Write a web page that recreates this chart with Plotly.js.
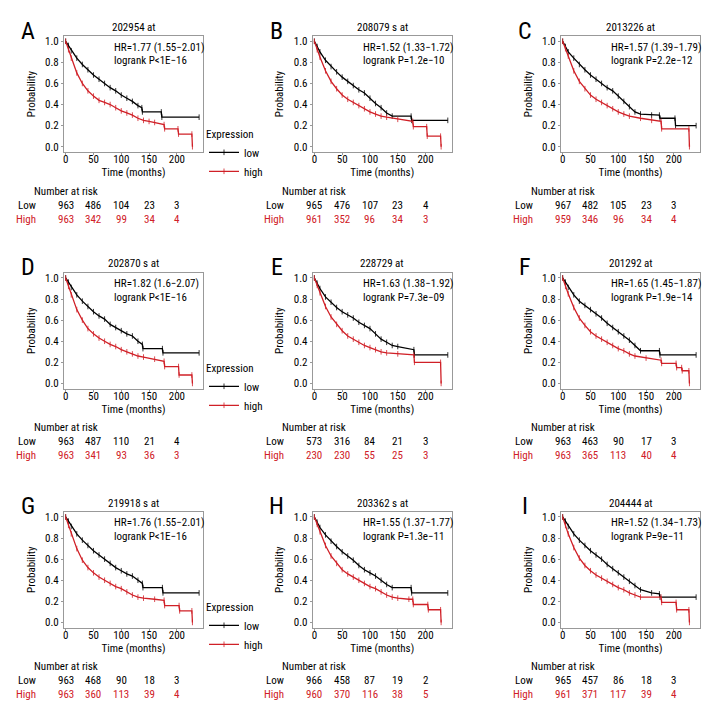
<!DOCTYPE html>
<html><head><meta charset="utf-8">
<script src="https://cdn.plot.ly/plotly-3.0.1.min.js"></script>
<style>html,body{margin:0;padding:0;background:#fff}</style>
</head><body><div id="chart" style="width:720px;height:720px"></div>
<script>
// ---------- data ----------
const panelLetters = ["A","B","C","D","E","F","G","H","I"];
const probeTitles = ["202954 at","208079 s at","2013226 at","202870 s at","228729 at","201292 at","219918 s at","203362 s at","204444 at"];
const hrTexts = ["HR=1.77 (1.55\u22122.01)","HR=1.52 (1.33\u22121.72)","HR=1.57 (1.39\u22121.79)","HR=1.82 (1.6\u22122.07)","HR=1.63 (1.38\u22121.92)","HR=1.65 (1.45\u22121.87)","HR=1.76 (1.55\u22122.01)","HR=1.55 (1.37\u22121.77)","HR=1.52 (1.34\u22121.73)"];
const logrankTexts = ["logrank P<1E\u221216","logrank P=1.2e\u221210","logrank P=2.2e\u221212","logrank P<1E\u221216","logrank P=7.3e\u221209","logrank P=1.9e\u221214","logrank P<1E\u221216","logrank P=1.3e\u221211","logrank P=9e\u221211"];
const riskTimes = [0,50,100,150,200];
const riskLow = [[963,486,104,23,3],[965,476,107,23,4],[967,482,105,23,3],[963,487,110,21,4],[573,316,84,21,3],[963,463,90,17,3],[963,468,90,18,3],[966,458,87,19,2],[965,457,86,18,3]];
const riskHigh = [[963,342,99,34,4],[961,352,96,34,3],[959,346,96,34,4],[963,341,93,36,3],[230,230,55,25,3],[963,365,113,40,4],[963,360,113,39,4],[960,370,116,38,5],[961,371,117,39,4]];

const lowTimeA = [0,5,10,20,30,40,50,60,70,80,90,100,110,120,130,137,138,172,173,240];
const lowSurvA = [1,0.96,0.91,0.84,0.78,0.73,0.68,0.64,0.60,0.56,0.53,0.49,0.46,0.43,0.39,0.37,0.33,0.33,0.28,0.28];
const highTimeA = [0,5,10,20,30,40,50,60,70,80,90,100,110,120,130,140,150,160,177,178,202,203,227,228];
const highSurvA = [1,0.92,0.84,0.70,0.60,0.53,0.48,0.44,0.42,0.40,0.37,0.34,0.32,0.30,0.27,0.25,0.24,0.23,0.21,0.17,0.17,0.12,0.12,0];

const lowTimeB = [0,5,10,20,30,40,50,60,70,80,90,100,110,120,130,140,174,175,240];
const lowSurvB = [1,0.95,0.90,0.82,0.76,0.71,0.66,0.62,0.58,0.54,0.51,0.46,0.41,0.37,0.32,0.29,0.29,0.25,0.25];
const highTimeB = [0,5,10,20,30,40,50,60,70,80,90,100,110,120,130,150,177,178,202,203,227,228];
const highSurvB = [1,0.92,0.85,0.72,0.62,0.55,0.49,0.45,0.42,0.39,0.36,0.33,0.31,0.29,0.28,0.26,0.24,0.19,0.19,0.10,0.10,0];

const lowTimeC = [0,5,10,20,30,40,50,60,70,80,90,100,110,120,130,140,160,174,175,202,203,240];
const lowSurvC = [1,0.95,0.90,0.84,0.78,0.73,0.68,0.64,0.60,0.56,0.53,0.48,0.43,0.38,0.33,0.31,0.30,0.30,0.27,0.27,0.20,0.20];
const highTimeC = [0,5,10,20,30,40,50,60,70,80,90,100,110,120,140,160,177,178,227,228];
const highSurvC = [1,0.93,0.86,0.72,0.62,0.55,0.49,0.45,0.42,0.39,0.36,0.33,0.31,0.29,0.27,0.25,0.24,0.17,0.17,0];

const lowTimeD = [0,5,10,20,30,40,50,60,70,80,90,100,110,120,130,138,139,174,175,240];
const lowSurvD = [1,0.96,0.91,0.84,0.78,0.73,0.68,0.64,0.61,0.56,0.53,0.50,0.47,0.45,0.40,0.37,0.33,0.33,0.29,0.29];
const highTimeD = [0,5,10,20,30,40,50,60,70,80,90,100,110,120,130,140,160,177,178,203,204,227,228];
const highSurvD = [1,0.92,0.84,0.70,0.60,0.52,0.47,0.43,0.40,0.37,0.35,0.32,0.30,0.28,0.26,0.25,0.23,0.21,0.16,0.16,0.08,0.08,0];

const lowTimeE = [0,5,10,20,30,40,50,60,70,80,90,100,110,120,130,140,150,179,180,240];
const lowSurvE = [1,0.95,0.90,0.82,0.77,0.72,0.68,0.65,0.62,0.58,0.55,0.52,0.47,0.42,0.39,0.36,0.35,0.32,0.27,0.27];
const highTimeE = [0,5,10,20,30,40,50,60,70,80,90,100,110,120,130,150,179,180,227,228];
const highSurvE = [1,0.93,0.86,0.73,0.63,0.56,0.50,0.45,0.42,0.39,0.36,0.34,0.32,0.30,0.29,0.28,0.27,0.20,0.20,0];

const lowTimeF = [0,5,10,20,30,40,50,60,70,80,90,100,110,120,130,140,174,175,240];
const lowSurvF = [1,0.96,0.91,0.84,0.78,0.74,0.70,0.66,0.62,0.57,0.53,0.49,0.45,0.41,0.36,0.31,0.31,0.27,0.27];
const highTimeF = [0,5,10,20,30,40,50,60,70,80,90,100,110,120,130,150,177,178,204,205,214,215,227,228];
const highSurvF = [1,0.92,0.85,0.72,0.62,0.55,0.49,0.45,0.42,0.39,0.36,0.33,0.31,0.28,0.26,0.24,0.22,0.19,0.19,0.15,0.15,0.12,0.12,0];

const lowTimeG = [0,5,10,20,30,40,50,60,70,80,90,100,110,120,130,138,139,174,175,240];
const lowSurvG = [1,0.96,0.91,0.84,0.78,0.73,0.68,0.64,0.60,0.56,0.52,0.49,0.46,0.44,0.40,0.37,0.33,0.33,0.28,0.28];
const highTimeG = [0,5,10,20,30,40,50,60,70,80,90,100,110,120,130,140,160,177,178,204,205,227,228];
const highSurvG = [1,0.92,0.84,0.70,0.59,0.52,0.47,0.43,0.40,0.37,0.34,0.32,0.29,0.26,0.24,0.23,0.22,0.21,0.16,0.16,0.11,0.11,0];

const lowTimeH = [0,5,10,20,30,40,50,60,70,80,90,100,110,120,130,140,174,175,240];
const lowSurvH = [1,0.95,0.90,0.83,0.77,0.72,0.67,0.63,0.59,0.54,0.50,0.47,0.44,0.40,0.36,0.33,0.33,0.28,0.28];
const highTimeH = [0,5,10,20,30,40,50,60,70,80,90,100,110,120,130,140,150,170,177,178,204,205,227,228];
const highSurvH = [1,0.93,0.86,0.73,0.63,0.56,0.50,0.46,0.43,0.40,0.37,0.34,0.32,0.29,0.26,0.24,0.23,0.22,0.22,0.17,0.17,0.12,0.12,0];

const lowTimeI = [0,5,10,20,30,40,50,60,70,80,90,100,110,120,130,140,160,174,175,240];
const lowSurvI = [1,0.96,0.91,0.84,0.78,0.73,0.68,0.64,0.60,0.55,0.51,0.47,0.43,0.39,0.35,0.31,0.28,0.27,0.24,0.24];
const highTimeI = [0,5,10,20,30,40,50,60,70,80,90,100,110,120,130,140,177,178,204,205,227,228];
const highSurvI = [1,0.92,0.84,0.71,0.61,0.54,0.49,0.45,0.42,0.39,0.36,0.33,0.31,0.28,0.26,0.24,0.24,0.19,0.19,0.12,0.12,0];

const xTicks = [0,50,100,150,200];
const yTicks = [0,0.2,0.4,0.6,0.8,1.0];

// ---------- build ----------
const lowCurves = [[lowTimeA,lowSurvA],[lowTimeB,lowSurvB],[lowTimeC,lowSurvC],[lowTimeD,lowSurvD],[lowTimeE,lowSurvE],[lowTimeF,lowSurvF],[lowTimeG,lowSurvG],[lowTimeH,lowSurvH],[lowTimeI,lowSurvI]];
const highCurves = [[highTimeA,highSurvA],[highTimeB,highSurvB],[highTimeC,highSurvC],[highTimeD,highSurvD],[highTimeE,highSurvE],[highTimeF,highSurvF],[highTimeG,highSurvG],[highTimeH,highSurvH],[highTimeI,highSurvI]];

const FONT = "Roboto Condensed, Open Sans, sans-serif";
const FS = 11;
const RED = "#d02027";
const colLeft = [64, 312.7, 561];
const rowTop = [36, 272.7, 511.7];
const PW = 139, PH = 116;

const traces = [];
const layout = {
  width: 720, height: 720,
  margin: {l:0, r:0, t:0, b:0},
  paper_bgcolor: "#fff", plot_bgcolor: "#fff",
  font: {family: FONT, size: FS, color: "#000"},
  showlegend: true,
  annotations: []
};
const legendNames = ["legend","legend2","legend3"];

for (let i = 0; i < 9; i++) {
  const r = Math.floor(i/3), c = i%3;
  const ax = i === 0 ? "" : String(i+1);
  const xa = "x"+ax, ya = "y"+ax;
  const lg = legendNames[r];
  const showL = (c === 0);
  traces.push({
    x: lowCurves[i][0], y: lowCurves[i][1], xaxis: xa, yaxis: ya,
    type: "scatter", mode: "lines+markers", name: "low",
    line: {color: "#000", width: 1.3},
    marker: {symbol: "line-ns-open", size: 4, color: "#000", line: {width: 0.8, color: "#000"}},
    legend: lg, showlegend: showL
  });
  traces.push({
    x: highCurves[i][0], y: highCurves[i][1], xaxis: xa, yaxis: ya,
    type: "scatter", mode: "lines+markers", name: "high",
    line: {color: RED, width: 1.3},
    marker: {symbol: "line-ns-open", size: 4, color: RED, line: {width: 0.8, color: RED}},
    legend: lg, showlegend: showL
  });
  const x0 = colLeft[c]/720, x1 = (colLeft[c]+PW)/720;
  const y1 = 1 - rowTop[r]/720, y0 = 1 - (rowTop[r]+PH)/720;
  layout["xaxis"+ax] = {
    domain: [x0, x1], anchor: ya, range: [-3, 247],
    tickvals: xTicks, ticks: "outside", ticklen: 2, tickcolor: "#999",
    ticklabelstandoff: -5,
    showline: true, mirror: true, linecolor: "#999", linewidth: 1,
    showgrid: false, zeroline: false, fixedrange: true,
    tickfont: {size: FS, family: FONT},
    title: {text: "Time (months)", font: {size: FS, family: FONT}, standoff: 0}
  };
  layout["yaxis"+ax] = {
    domain: [y0, y1], anchor: xa, range: [-0.05, 1.05],
    tickvals: yTicks, tickformat: ".1f", ticks: "outside", ticklen: 2, tickcolor: "#999",
    showline: true, mirror: true, linecolor: "#999", linewidth: 1,
    showgrid: false, zeroline: false, fixedrange: true,
    tickfont: {size: FS, family: FONT},
    title: {text: "Probability", font: {size: FS, family: FONT}, standoff: 7}
  };
  const A = layout.annotations;
  const xd = xa + " domain", yd = ya + " domain";
  A.push({xref: xd, yref: yd, x: -0.26, y: 1.045, text: panelLetters[i], showarrow: false,
    xanchor: "center", yanchor: "middle", font: {size: 24, family: FONT, color: "#000"}});
  A.push({xref: xd, yref: yd, x: 0.5, y: 1.075, text: probeTitles[i], showarrow: false,
    xanchor: "center", yanchor: "middle", font: {size: FS, family: FONT}});
  A.push({xref: xd, yref: yd, x: 0.345, y: 0.905, text: hrTexts[i], showarrow: false,
    xanchor: "left", yanchor: "middle", font: {size: FS, family: FONT}});
  A.push({xref: xd, yref: yd, x: 0.345, y: 0.785, text: logrankTexts[i], showarrow: false,
    xanchor: "left", yanchor: "middle", font: {size: FS, family: FONT}});
  A.push({xref: xa, yref: yd, x: 0, y: -0.338, text: "Number at risk", showarrow: false,
    xanchor: "center", yanchor: "middle", font: {size: FS, family: FONT}});
  const labX = (colLeft[c] - 26.5) / 720;
  A.push({xref: "paper", yref: yd, x: labX, y: -0.458, text: "Low", showarrow: false,
    xanchor: "right", yanchor: "middle", font: {size: FS, family: FONT, color: "#000"}});
  A.push({xref: "paper", yref: yd, x: labX, y: -0.578, text: "High", showarrow: false,
    xanchor: "right", yanchor: "middle", font: {size: FS, family: FONT, color: RED}});
  for (let k = 0; k < riskTimes.length; k++) {
    A.push({xref: xa, yref: yd, x: riskTimes[k], y: -0.458, text: String(riskLow[i][k]), showarrow: false,
      xanchor: "center", yanchor: "middle", font: {size: FS, family: FONT, color: "#000"}});
    A.push({xref: xa, yref: yd, x: riskTimes[k], y: -0.578, text: String(riskHigh[i][k]), showarrow: false,
      xanchor: "center", yanchor: "middle", font: {size: FS, family: FONT, color: RED}});
  }
}
const legendY = [155, 389, 628];
for (let r = 0; r < 3; r++) {
  layout[legendNames[r]] = {
    x: 204/720, xanchor: "left", y: 1 - legendY[r]/720, yanchor: "middle",
    title: {text: "Expression", font: {size: FS, family: FONT}},
    font: {size: FS, family: FONT}, bgcolor: "rgba(0,0,0,0)",
    itemwidth: 30, tracegroupgap: 0, borderwidth: 0
  };
}
Plotly.newPlot("chart", traces, layout, {staticPlot: true, displayModeBar: false});
</script>
</body></html>
